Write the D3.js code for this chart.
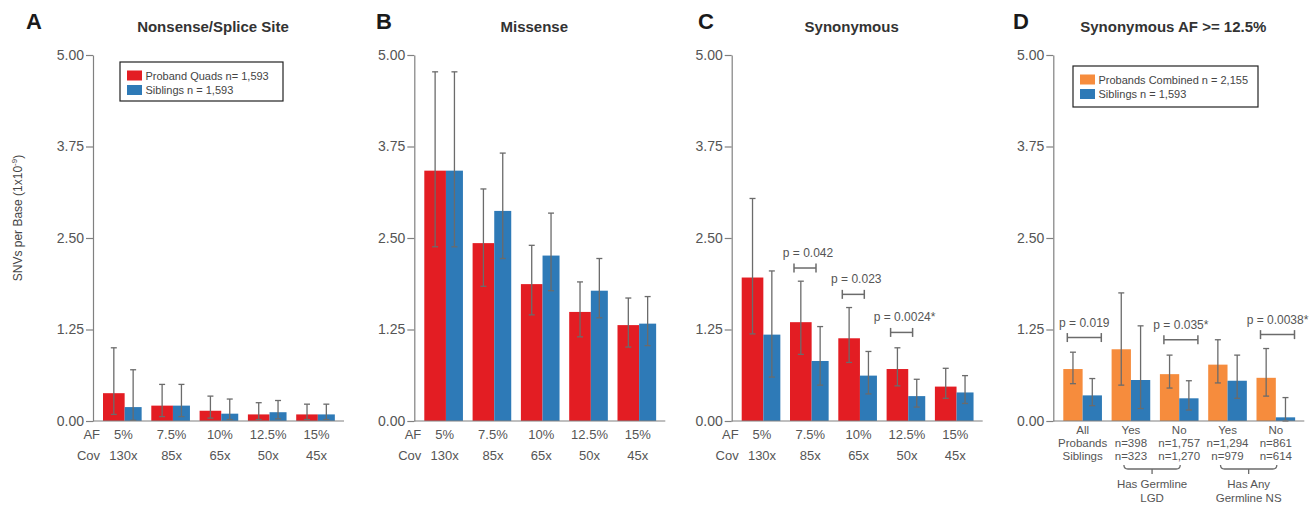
<!DOCTYPE html>
<html>
<head>
<meta charset="utf-8">
<script src="https://cdn.jsdelivr.net/npm/d3@7"></script>
<style>
  body { margin: 0; background: #fff; }
  svg text { font-family: "Liberation Sans", Arial, sans-serif; }
</style>
</head>
<body>
<svg id="chart" width="1316" height="506"></svg>
<script>
// categories
const afLabels = ["5%", "7.5%", "10%", "12.5%", "15%"];
const covLabels = ["130x", "85x", "65x", "50x", "45x"];
const groupD = ["All", "Yes LGD", "No LGD", "Yes NS", "No NS"];
const groupDLines = [
    ["All", "Probands", "Siblings"],
    ["Yes", "n=398", "n=323"],
    ["No", "n=1,757", "n=1,270"],
    ["Yes", "n=1,294", "n=979"],
    ["No", "n=861", "n=614"]
];

// A: nonsense / splice site
const nsProband = [0.38, 0.21, 0.14, 0.09, 0.09];
const nsProbandLo = [0.09, 0.06, 0.04, 0.02, 0.02];
const nsProbandHi = [1.00, 0.50, 0.34, 0.25, 0.23];
const nsSib = [0.19, 0.21, 0.10, 0.12, 0.09];
const nsSibLo = [0.01, 0.06, 0.02, 0.03, 0.02];
const nsSibHi = [0.70, 0.50, 0.30, 0.28, 0.23];

// B: missense
const misProband = [3.42, 2.43, 1.87, 1.49, 1.31];
const misProbandLo = [2.38, 1.84, 1.45, 1.15, 1.01];
const misProbandHi = [4.77, 3.17, 2.40, 1.90, 1.68];
const misSib = [3.42, 2.87, 2.26, 1.78, 1.33];
const misSibLo = [2.38, 2.22, 1.78, 1.41, 1.03];
const misSibHi = [4.77, 3.66, 2.84, 2.22, 1.70];

// C: synonymous
const synProband = [1.96, 1.35, 1.13, 0.71, 0.47];
const synProbandLo = [1.19, 0.91, 0.80, 0.48, 0.31];
const synProbandHi = [3.04, 1.91, 1.55, 1.00, 0.72];
const synSib = [1.18, 0.82, 0.62, 0.34, 0.39];
const synSibLo = [0.60, 0.49, 0.37, 0.19, 0.24];
const synSibHi = [2.05, 1.29, 0.95, 0.57, 0.62];
const synPvals = [
    { group: 1, label: "p = 0.042", value: 2.09 },
    { group: 2, label: "p = 0.023", value: 1.73 },
    { group: 3, label: "p = 0.0024*", value: 1.21 }
];

// D: synonymous AF >= 12.5%
const dProband = [0.71, 0.98, 0.64, 0.77, 0.59];
const dProbandLo = [0.51, 0.49, 0.45, 0.52, 0.34];
const dProbandHi = [0.94, 1.75, 0.90, 1.11, 0.99];
const dSib = [0.35, 0.56, 0.31, 0.55, 0.05];
const dSibLo = [0.21, 0.17, 0.15, 0.31, 0.00];
const dSibHi = [0.58, 1.30, 0.55, 0.90, 0.32];
const dPvals = [
    { group: 0, label: "p = 0.019", value: 1.14 },
    { group: 2, label: "p = 0.035*", value: 1.11 },
    { group: 4, label: "p = 0.0038*", value: 1.18 }
];
const dBraces = [
    { from: 1, to: 2, lines: ["Has Germline", "LGD"] },
    { from: 3, to: 4, lines: ["Has Any", "Germline NS"] }
];

const yTicks = [0, 1.25, 2.5, 3.75, 5];

const RED = "#e31d23", BLUE = "#2e7ab7", ORANGE = "#f68c3d";
const AXIS = "#808080", LABEL = "#555", ERR = "#6b6b6b";

const svg = d3.select("#chart");

const yscale = d3.scaleLinear().domain([0, 5]).range([421, 55]);

function drawPanel(cfg) {
    const g = svg.append("g");
    const ax = cfg.axisX;
    const step = 48.3;

    const xscale = d3.scaleBand()
        .domain(cfg.cats)
        .range([ax + 10, ax + 10 + step * (cfg.cats.length - 0.2)])
        .paddingInner(0.2)
        .paddingOuter(0);
    const bw = xscale.bandwidth();
    const w1 = bw * cfg.split, w2 = bw - w1;

    // letter + title
    g.append("text").attr("x", cfg.letterX).attr("y", 29)
        .attr("font-size", 22).attr("font-weight", "bold").attr("fill", "#1a1a1a")
        .text(cfg.letter);
    g.append("text").attr("x", ax + 120).attr("y", 32)
        .attr("text-anchor", "middle")
        .attr("font-size", 15).attr("font-weight", "bold").attr("fill", "#333")
        .text(cfg.title);

    // bars
    const rows = cfg.cats.map((c, i) => ({
        cat: c,
        a: cfg.a[i], aLo: cfg.aLo[i], aHi: cfg.aHi[i],
        b: cfg.b[i], bLo: cfg.bLo[i], bHi: cfg.bHi[i]
    }));

    g.selectAll(".barA").data(rows).join("rect")
        .attr("x", d => xscale(d.cat))
        .attr("y", d => yscale(d.a))
        .attr("width", w1)
        .attr("height", d => yscale(0) - yscale(d.a))
        .attr("fill", cfg.colorA);
    g.selectAll(".barB").data(rows).join("rect")
        .attr("x", d => xscale(d.cat) + w1)
        .attr("y", d => yscale(d.b))
        .attr("width", w2)
        .attr("height", d => yscale(0) - yscale(d.b))
        .attr("fill", BLUE);

    // error bars
    const errs = [];
    rows.forEach(d => {
        errs.push({ x: xscale(d.cat) + w1 / 2, lo: d.aLo, hi: d.aHi });
        errs.push({ x: xscale(d.cat) + w1 + w2 / 2, lo: d.bLo, hi: d.bHi });
    });
    const eg = g.append("g").attr("stroke", ERR).attr("stroke-width", 1.3);
    errs.forEach(e => {
        eg.append("line").attr("x1", e.x).attr("x2", e.x)
            .attr("y1", yscale(e.lo)).attr("y2", yscale(e.hi));
        eg.append("line").attr("x1", e.x - 3).attr("x2", e.x + 3)
            .attr("y1", yscale(e.lo)).attr("y2", yscale(e.lo));
        eg.append("line").attr("x1", e.x - 3).attr("x2", e.x + 3)
            .attr("y1", yscale(e.hi)).attr("y2", yscale(e.hi));
    });

    // y axis
    const yaxis = d3.axisLeft(yscale)
        .tickValues(yTicks)
        .tickFormat(d3.format(".2f"))
        .tickSize(7)
        .tickSizeOuter(0)
        .tickPadding(2);
    const yg = g.append("g").attr("transform", `translate(${ax},0)`).call(yaxis);
    yg.select(".domain").attr("stroke", AXIS).attr("stroke-width", 1.2);
    yg.selectAll(".tick line").attr("stroke", AXIS).attr("stroke-width", 1.2);
    yg.selectAll(".tick text").attr("fill", LABEL).attr("font-size", 14)
        .attr("font-family", "Liberation Sans, Arial, sans-serif");

    // baseline
    g.append("line").attr("x1", ax).attr("x2", ax + 251)
        .attr("y1", yscale(0)).attr("y2", yscale(0))
        .attr("stroke", AXIS).attr("stroke-width", 1.2);

    // p-value brackets
    (cfg.pvals || []).forEach(p => {
        const x0 = xscale(cfg.cats[p.group]) + cfg.bracket[0];
        const x1 = xscale(cfg.cats[p.group]) + cfg.bracket[1];
        const yy = yscale(p.value);
        const bg = g.append("g").attr("stroke", ERR).attr("stroke-width", 1.5);
        bg.append("line").attr("x1", x0).attr("x2", x1).attr("y1", yy).attr("y2", yy);
        bg.append("line").attr("x1", x0).attr("x2", x0).attr("y1", yy - 4.5).attr("y2", yy + 4.5);
        bg.append("line").attr("x1", x1).attr("x2", x1).attr("y1", yy - 4.5).attr("y2", yy + 4.5);
        g.append("text").attr("x", (x0 + x1) / 2 + cfg.pShift).attr("y", yy - 11)
            .attr("text-anchor", "middle").attr("font-size", 12).attr("fill", LABEL)
            .text(p.label);
    });

    // x labels
    if (cfg.af) {
        g.append("text").attr("x", ax + 7).attr("y", 439).attr("text-anchor", "end")
            .attr("font-size", 13).attr("fill", LABEL).text("AF");
        g.append("text").attr("x", ax + 7).attr("y", 460).attr("text-anchor", "end")
            .attr("font-size", 13).attr("fill", LABEL).text("Cov");
        cfg.cats.forEach((c, i) => {
            const cx = xscale(c) + bw / 2 + 1;
            g.append("text").attr("x", cx).attr("y", 439).attr("text-anchor", "middle")
                .attr("font-size", 13).attr("fill", LABEL).text(afLabels[i]);
            g.append("text").attr("x", cx).attr("y", 460).attr("text-anchor", "middle")
                .attr("font-size", 13).attr("fill", LABEL).text(covLabels[i]);
        });
    } else {
        cfg.cats.forEach((c, i) => {
            const cx = xscale(c) + bw / 2;
            groupDLines[i].forEach((t, j) => {
                g.append("text").attr("x", cx).attr("y", 434 + j * 13)
                    .attr("text-anchor", "middle").attr("font-size", 11.5)
                    .attr("fill", LABEL).text(t);
            });
        });
        dBraces.forEach(b => {
            const xa = xscale(cfg.cats[b.from]) + bw / 2 - 7;
            const xb = xscale(cfg.cats[b.to]) + bw / 2 + 1;
            const xm = (xa + xb) / 2;
            const yb = 469;
            g.append("path")
                .attr("d", `M${xa},${yb - 4} Q${xa},${yb} ${xa + 4},${yb} L${xb - 4},${yb} Q${xb},${yb} ${xb},${yb - 4} M${xm},${yb} L${xm},${yb + 5}`)
                .attr("fill", "none").attr("stroke", ERR).attr("stroke-width", 1.3);
            b.lines.forEach((t, j) => {
                g.append("text").attr("x", xm).attr("y", 488 + j * 13.5)
                    .attr("text-anchor", "middle").attr("font-size", 11.5)
                    .attr("fill", LABEL).text(t);
            });
        });
    }

    // legend
    if (cfg.legend) {
        const L = cfg.legend;
        const lg = g.append("g").attr("transform", `translate(${L.x},${L.y})`);
        lg.append("rect").attr("x", 0).attr("y", 0).attr("width", L.w).attr("height", L.h)
            .attr("fill", "#fff").attr("stroke", "#222").attr("stroke-width", 1.2);
        L.items.forEach((it, i) => {
            lg.append("rect").attr("x", 7).attr("y", 8.5 + i * 14.5)
                .attr("width", 15).attr("height", 10).attr("fill", it.color);
            lg.append("text").attr("x", 25.5).attr("y", 17.5 + i * 14.5)
                .attr("font-size", 11).attr("fill", "#444").text(it.label);
        });
    }
}

drawPanel({
    letter: "A", letterX: 26, title: "Nonsense/Splice Site", axisX: 93,
    cats: afLabels, split: 0.56, colorA: RED, af: true,
    a: nsProband, aLo: nsProbandLo, aHi: nsProbandHi,
    b: nsSib, bLo: nsSibLo, bHi: nsSibHi,
    legend: { x: 120, y: 62, w: 163, h: 39, items: [
        { color: RED, label: "Proband Quads n= 1,593" },
        { color: BLUE, label: "Siblings n = 1,593" }
    ] }
});
drawPanel({
    letter: "B", letterX: 376, title: "Missense", axisX: 414.3,
    cats: afLabels, split: 0.56, colorA: RED, af: true,
    a: misProband, aLo: misProbandLo, aHi: misProbandHi,
    b: misSib, bLo: misSibLo, bHi: misSibHi
});
drawPanel({
    letter: "C", letterX: 698, title: "Synonymous", axisX: 731.7,
    cats: afLabels, split: 0.56, colorA: RED, af: true,
    a: synProband, aLo: synProbandLo, aHi: synProbandHi,
    b: synSib, bLo: synSibLo, bHi: synSibHi,
    pvals: synPvals, bracket: [4, 26], pShift: 3
});
drawPanel({
    letter: "D", letterX: 1013, title: "Synonymous AF >= 12.5%", axisX: 1053.3,
    cats: groupD, split: 0.5, colorA: ORANGE, af: false,
    a: dProband, aLo: dProbandLo, aHi: dProbandHi,
    b: dSib, bLo: dSibLo, bHi: dSibHi,
    pvals: dPvals, bracket: [4, 38], pShift: 0,
    legend: { x: 1073, y: 66, w: 185, h: 41, items: [
        { color: ORANGE, label: "Probands Combined n = 2,155" },
        { color: BLUE, label: "Siblings n = 1,593" }
    ] }
});

// shared y axis title
const yt = svg.append("text")
    .attr("transform", "translate(22,218) rotate(-90)")
    .attr("text-anchor", "middle")
    .attr("font-size", 12).attr("fill", "#444");
yt.append("tspan").text("SNVs per Base (1x10");
yt.append("tspan").attr("font-size", 8).attr("dy", -5).text("-9");
yt.append("tspan").attr("dy", 5).text(")");
</script>
</body>
</html>
